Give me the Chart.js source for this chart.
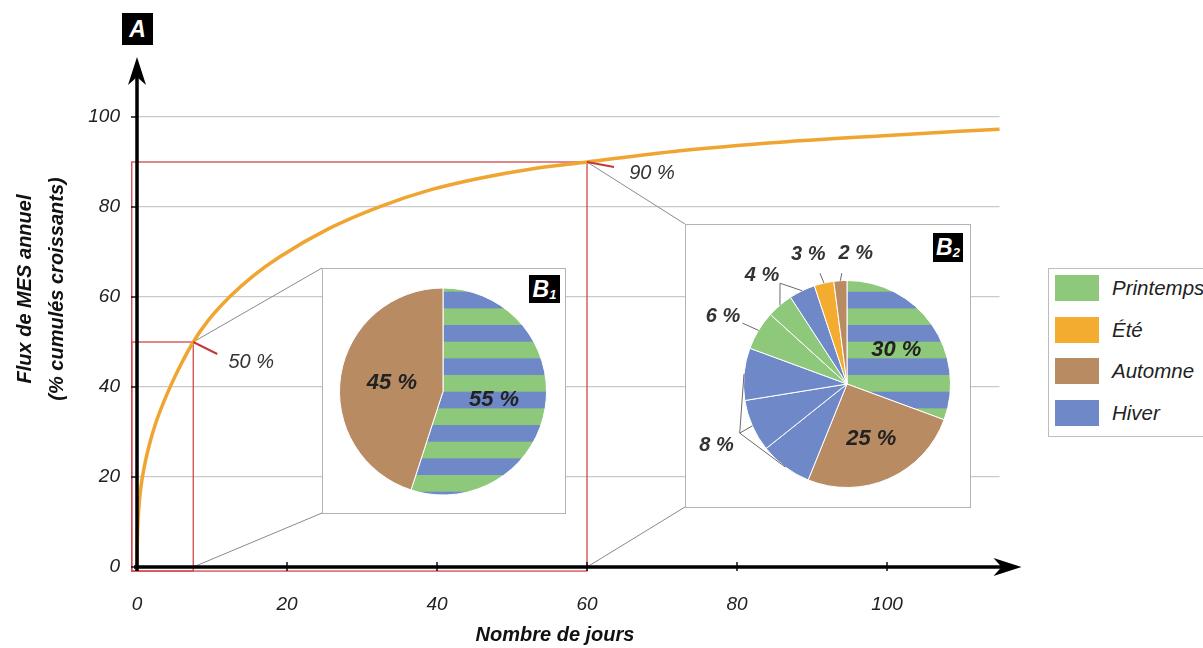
<!DOCTYPE html>
<html lang="fr">
<head>
<meta charset="utf-8">
<title>Flux de MES annuel</title>
<script src="https://cdn.jsdelivr.net/npm/chart.js@4.4.1/dist/chart.umd.min.js"></script>
<style>
  body { margin: 0; background: #fff; }
  #wrap { position: relative; width: 1203px; height: 648px; overflow: hidden;
          font-family: "Liberation Sans", Arial, Helvetica, sans-serif; }
  #main { position: absolute; left: 0; top: 0; }
  .inset { position: absolute; background: #fff; border: 1px solid #b3b3b3; box-sizing: border-box; }
  .inset canvas { position: absolute; left: 0; top: 0; }
  .badge { position: absolute; background: #000; color: #fff; font-weight: bold; font-style: italic;
           text-align: center; font-size: 23px; }
  .badge sub { font-size: 13px; vertical-align: baseline; position: relative; top: 2px; }
  #legend { position: absolute; left: 1048px; top: 268px; width: 190px; height: 169px;
            border: 1px solid #bdbdbd; background: #fff; box-sizing: border-box; }
  #legend .sw { position: absolute; left: 6px; width: 44px; height: 26px; }
  #legend .tx { position: absolute; left: 63px; height: 26px; line-height: 26px;
                font-style: italic; font-size: 20.5px; color: #222; white-space: nowrap; }
</style>
</head>
<body>
<div id="wrap">
  <canvas id="main" width="1203" height="648"></canvas>
  <div class="badge" style="left:122px;top:13px;width:31px;height:32px;line-height:32px;">A</div>

  <div class="inset" id="b1" style="left:322px;top:268px;width:244px;height:246px;">
    <canvas id="b1c" width="242" height="244"></canvas>
  </div>
  <div class="badge" style="left:529px;top:275px;width:31px;height:28px;line-height:28px;">B<sub>1</sub></div>

  <div class="inset" id="b2" style="left:685px;top:224px;width:286px;height:284px;">
    <canvas id="b2c" width="284" height="282"></canvas>
  </div>
  <div class="badge" style="left:933px;top:233px;width:30px;height:29px;line-height:29px;">B<sub>2</sub></div>

  <div id="legend"></div>
</div>

<script>
// courbe cumulée (jours -> % du flux annuel)
const days     = [0, 0.05, 0.2, 0.5, 1, 1.7, 2.5, 3.5, 4.5, 5.7, 7.5, 9.5, 12.4, 15.5, 19.1, 25.7, 32.4, 39.1, 45.7, 52.4, 60, 72.4, 85.7, 99, 115];
const cumulPct = [0, 6, 12, 17.5, 22.5, 27.5, 32, 36.4, 40.3, 44.5, 50, 54.8, 60.1, 64.7, 69, 75.3, 80.1, 83.8, 86.4, 88.4, 90, 92.5, 94.4, 95.8, 97.3];
const xTickValues = [0, 20, 40, 60, 80, 100];
const yTickValues = [0, 20, 40, 60, 80, 100];

// seuils repérés (50 % et 90 %)
const markDays = [7.5, 60];
const markPct  = [50, 90];

// camemberts B1 et B2
const seasons   = ['Printemps', 'Été', 'Automne', 'Hiver'];
const b1Values  = [55, 45];
const b1Seasons = ['Printemps+Hiver', 'Automne'];
const b2Values  = [30, 25, 8, 8, 8, 6, 4, 4, 3, 2];
const b2Seasons = ['Printemps+Hiver', 'Automne', 'Hiver', 'Hiver', 'Hiver', 'Printemps', 'Printemps', 'Hiver', 'Été', 'Automne'];

const FONT = '"Liberation Sans", Arial, Helvetica, sans-serif';
const colors = { 'Printemps': '#8ec97b', 'Été': '#f4ac30', 'Automne': '#b98b63', 'Hiver': '#6e88c8' };

// legend
const legend = document.getElementById('legend');
seasons.forEach((s, i) => {
  const top = 6 + i * 41.7;
  legend.insertAdjacentHTML('beforeend',
    `<div class="sw" style="top:${top}px;background:${colors[s]}"></div>` +
    `<div class="tx" style="top:${top}px">${s}</div>`);
});

// stripes blue / green, same phase on the page for both pies
function stripes(canvasId, boxTop) {
  const band = 50 / 3, period = 100 / 3;
  const c = document.createElement('canvas');
  c.width = 8; c.height = 100;
  const g = c.getContext('2d');
  g.fillStyle = colors['Printemps'];
  g.fillRect(0, 0, 8, 100);
  g.fillStyle = colors['Hiver'];
  const phase = (((291.7 - (boxTop + 1)) % period) + period) % period;
  for (let k = -1; k < 4; k++) g.fillRect(0, phase + k * period, 8, band);
  return document.getElementById(canvasId).getContext('2d').createPattern(c, 'repeat');
}

function sliceColors(list, pattern) {
  return list.map(s => s === 'Printemps+Hiver' ? pattern : colors[s]);
}

// main chart decorations
const decor = {
  id: 'decor',
  beforeDatasetsDraw(chart) {
    const { ctx, scales: { x, y } } = chart;
    ctx.save();
    const x0 = x.getPixelForValue(-0.7), y0 = y.getPixelForValue(-0.9);
    const boxes = ['b1', 'b2'].map(id => document.getElementById(id));
    markDays.forEach((d, i) => {
      const px = x.getPixelForValue(d), py = y.getPixelForValue(markPct[i]);
      const el = boxes[i];
      // connectors to the insets
      ctx.strokeStyle = '#8a8a8a';
      ctx.lineWidth = 1;
      ctx.beginPath();
      ctx.moveTo(px, py); ctx.lineTo(el.offsetLeft, el.offsetTop);
      ctx.moveTo(px, y.getPixelForValue(0)); ctx.lineTo(el.offsetLeft, el.offsetTop + el.offsetHeight - 1);
      ctx.stroke();
      // red frame
      ctx.strokeStyle = '#d2474c';
      ctx.lineWidth = 1.3;
      ctx.strokeRect(x0, py, px - x0, y0 - py);
    });
    ctx.restore();
  },
  afterDatasetsDraw(chart) {
    const { ctx, scales: { x, y } } = chart;
    const ax = x.getPixelForValue(0), ay = y.getPixelForValue(0);
    ctx.save();

    // red pointers + labels
    const lead = [[24, 12], [27, 5]];
    const lab = [[58, 20], [65, 11]];
    markDays.forEach((d, i) => {
      const px = x.getPixelForValue(d), py = y.getPixelForValue(markPct[i]);
      ctx.strokeStyle = '#c0393e';
      ctx.lineWidth = 2;
      ctx.beginPath();
      ctx.moveTo(px, py); ctx.lineTo(px + lead[i][0], py + lead[i][1]);
      ctx.stroke();
      ctx.fillStyle = '#333';
      ctx.font = 'italic 20px ' + FONT;
      ctx.textAlign = 'center'; ctx.textBaseline = 'middle';
      ctx.fillText(markPct[i] + ' %', px + lab[i][0], py + lab[i][1]);
    });

    // tick marks
    ctx.strokeStyle = '#111';
    ctx.lineWidth = 1.5;
    ctx.beginPath();
    yTickValues.forEach(v => { const py = y.getPixelForValue(v); ctx.moveTo(ax - 6, py); ctx.lineTo(ax, py); });
    xTickValues.forEach(v => { const px = x.getPixelForValue(v); ctx.moveTo(px, ay - 5); ctx.lineTo(px, ay + 4); });
    ctx.stroke();

    // axes with arrows
    ctx.fillStyle = '#000';
    ctx.strokeStyle = '#000';
    ctx.lineWidth = 3.5;
    const topTip = y.top - 60, rightTip = x.right + 22;
    ctx.beginPath();
    ctx.moveTo(ax, ay + 4); ctx.lineTo(ax, topTip + 18);
    ctx.moveTo(ax - 3, ay); ctx.lineTo(rightTip - 18, ay);
    ctx.stroke();
    ctx.beginPath();
    ctx.moveTo(ax, topTip); ctx.lineTo(ax + 9, topTip + 28); ctx.lineTo(ax, topTip + 20); ctx.lineTo(ax - 9, topTip + 28);
    ctx.closePath(); ctx.fill();
    ctx.beginPath();
    ctx.moveTo(rightTip, ay); ctx.lineTo(rightTip - 28, ay - 9); ctx.lineTo(rightTip - 20, ay); ctx.lineTo(rightTip - 28, ay + 9);
    ctx.closePath(); ctx.fill();

    // axis titles
    ctx.fillStyle = '#111';
    ctx.font = 'italic bold 20px ' + FONT;
    ctx.textAlign = 'center'; ctx.textBaseline = 'middle';
    ctx.fillText('Nombre de jours', 555, 635);
    ctx.translate(0, 289);
    ctx.rotate(-Math.PI / 2);
    ctx.fillText('Flux de MES annuel', 0, 25);
    ctx.fillText('(% cumulés croissants)', 0, 57);
    ctx.restore();
  }
};

new Chart(document.getElementById('main').getContext('2d'), {
  type: 'line',
  data: {
    datasets: [{
      data: days.map((d, i) => ({ x: d, y: cumulPct[i] })),
      borderColor: '#f0a431',
      borderWidth: 3.5,
      pointRadius: 0,
      cubicInterpolationMode: 'monotone',
      fill: false,
      clip: false
    }]
  },
  options: {
    responsive: false,
    animation: false,
    layout: { padding: { left: 0, top: 117, right: 203.5, bottom: 0 } },
    plugins: { legend: { display: false }, tooltip: { enabled: false } },
    scales: {
      x: {
        type: 'linear', min: 0, max: 115,
        grid: { display: false },
        border: { display: false },
        ticks: { padding: 18, maxRotation: 0, color: '#222', font: { family: FONT, size: 19, style: 'italic' } },
        afterBuildTicks: s => { s.ticks = xTickValues.map(v => ({ value: v })); },
        afterFit: s => { s.height = 81; }
      },
      y: {
        min: 0, max: 100,
        grid: { color: '#c9c9c9', lineWidth: 1.3, drawTicks: false },
        border: { display: false },
        ticks: { padding: 17, color: '#222', font: { family: FONT, size: 19, style: 'italic' } },
        afterBuildTicks: s => { s.ticks = yTickValues.map(v => ({ value: v })); },
        afterFit: s => { s.width = 137; }
      }
    }
  },
  plugins: [decor]
});

// pie labels (inner + outer with leader lines)
const sliceLabels = {
  id: 'sliceLabels',
  afterDatasetsDraw(chart, args, opts) {
    const ctx = chart.ctx;
    const arcs = chart.getDatasetMeta(0).data;
    const vals = chart.data.datasets[0].data;
    ctx.save();
    ctx.textAlign = 'center'; ctx.textBaseline = 'middle';
    ctx.fillStyle = '#222';
    ctx.font = 'italic bold 22px ' + FONT;
    (opts.inner || []).forEach(it => {
      const a = arcs[it.index], m = (a.startAngle + a.endAngle) / 2, r = a.outerRadius * it.r;
      ctx.fillText(vals[it.index] + ' %', a.x + r * Math.cos(m), a.y + r * Math.sin(m));
    });
    ctx.font = 'italic bold 20px ' + FONT;
    ctx.fillStyle = '#333';
    ctx.strokeStyle = '#6a6a6a';
    ctx.lineWidth = 1;
    (opts.outer || []).forEach(g => {
      const a0 = arcs[g.slices[0]];
      const pol = (deg, r) => { const t = deg * Math.PI / 180 - Math.PI / 2; return [a0.x + r * Math.cos(t), a0.y + r * Math.sin(t)]; };
      const e = pol(g.elbow[0], g.elbow[1]);
      ctx.beginPath();
      g.slices.forEach(i => {
        const a = arcs[i], m = (a.startAngle + a.endAngle) / 2;
        ctx.moveTo(e[0], e[1]);
        ctx.lineTo(a.x + a.outerRadius * Math.cos(m), a.y + a.outerRadius * Math.sin(m));
      });
      ctx.stroke();
      const l = pol(g.label[0], g.label[1]);
      ctx.fillText(vals[g.slices[0]] + ' %', l[0], l[1]);
    });
    ctx.restore();
  }
};

function pieChart(canvasId, boxTop, values, kinds, pad, labelOpts) {
  return new Chart(document.getElementById(canvasId).getContext('2d'), {
    type: 'pie',
    data: {
      labels: kinds,
      datasets: [{
        data: values,
        backgroundColor: sliceColors(kinds, stripes(canvasId, boxTop)),
        borderColor: '#ffffff',
        borderWidth: 1
      }]
    },
    options: {
      responsive: false,
      animation: false,
      layout: { padding: pad },
      plugins: { legend: { display: false }, tooltip: { enabled: false }, sliceLabels: labelOpts }
    },
    plugins: [sliceLabels]
  });
}

pieChart('b1c', 268, b1Values, b1Seasons,
  { left: 16, top: 18.5, right: 18, bottom: 17.5 },
  { inner: [{ index: 0, r: 0.5 }, { index: 1, r: 0.5 }] });

pieChart('b2c', 224, b2Values, b2Seasons,
  { left: 57, top: 55, right: 19, bottom: 19 },
  {
    inner: [{ index: 0, r: 0.58 }, { index: 1, r: 0.58 }],
    outer: [
      { slices: [2, 3, 4], elbow: [245.4, 118], label: [244.9, 144] },
      { slices: [5], elbow: [300.2, 121], label: [298.4, 141] },
      { slices: [6, 7], elbow: [326.4, 121], label: [322, 138] },
      { slices: [8], elbow: [346.3, 114], label: [343.3, 135] },
      { slices: [9], elbow: [357.3, 111], label: [3.8, 131] }
    ]
  });
</script>
</body>
</html>
